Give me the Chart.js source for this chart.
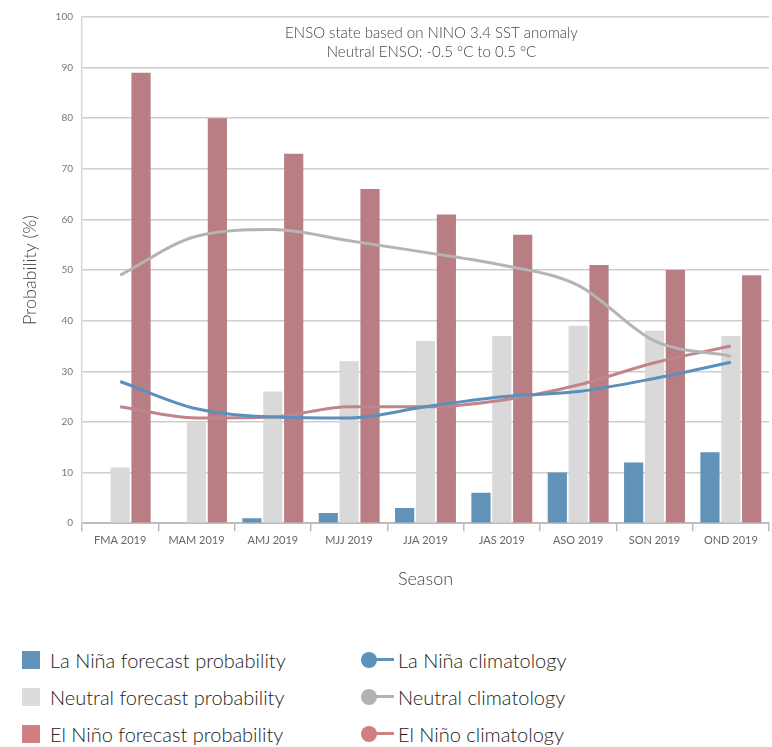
<!DOCTYPE html>
<html>
<head>
<meta charset="utf-8">
<script src="https://cdn.jsdelivr.net/npm/chart.js@4"></script>
<style>
  body { margin: 0; background: #fff; font-family: Lato, sans-serif; }
  #caixa { position: relative; width: 772px; height: 747px; }
  #grafico-wrap { position: absolute; left: 0; top: 0; width: 772px; height: 600px; }
  #legenda { position: absolute; left: 0; top: 641px; width: 772px; }
  .linha { height: 37px; display: flex; align-items: center; font-size: 20px; font-weight: 300; color: #222; }
  .item { display: flex; align-items: center; }
  .col1 { width: 343px; padding-left: 22px; }
  .quadrado { width: 18px; height: 18px; margin-right: 10px; }
  .icone { position: relative; width: 33px; height: 16px; margin-right: 0; }
  .icone .bola { position: absolute; left: -4px; top: 0; width: 16px; height: 16px; border-radius: 50%; }
  .icone .traco { position: absolute; left: 4px; top: 6px; width: 25px; height: 3px; }
</style>
</head>
<body>
<div id="caixa">
  <div id="grafico-wrap"><canvas id="meuGrafico"></canvas></div>
  <div id="legenda"></div>
</div>
<script>
const estacoes = ['FMA 2019', 'MAM 2019', 'AMJ 2019', 'MJJ 2019', 'JJA 2019', 'JAS 2019', 'ASO 2019', 'SON 2019', 'OND 2019'];

// forecast probabilities (%)
const laNinaPrev = [0, 0, 1, 2, 3, 6, 10, 12, 14];
const neutroPrev = [11, 20, 26, 32, 36, 37, 39, 38, 37];
const elNinoPrev = [89, 80, 73, 66, 61, 57, 51, 50, 49];

// climatology (%)
const laNinaClim = [28, 22.6, 21, 20.8, 23, 25, 26, 28.6, 31.8];
const neutroClim = [49, 56.7, 58, 55.8, 53.5, 51, 47, 36, 33];
const elNinoClim = [23, 20.8, 21, 23, 23, 24.3, 27.3, 31.7, 35];

const yMin = 0;
const yMax = 100;
const yPasso = 10;

const tituloInterno = ['ENSO state based on NINO 3.4 SST anomaly', 'Neutral ENSO: -0.5 \u00b0C to 0.5 \u00b0C'];

const corAzul = '#6193b9';
const corCinza = '#d9d9d9';
const corVermelho = '#b87e83';
const corAzulLinha = '#5d8fbb';
const corCinzaLinha = '#b4b4b4';
const corVermelhoLinha = '#c0848a';

const textoInterno = {
  id: 'textoInterno',
  afterDraw(chart) {
    const ctx = chart.ctx;
    const area = chart.chartArea;
    ctx.save();
    ctx.font = '300 15px Lato, sans-serif';
    ctx.fillStyle = '#444';
    ctx.textAlign = 'center';
    ctx.textBaseline = 'middle';
    const x = (area.left + area.right) / 2 + 6;
    tituloInterno.forEach((t, i) => ctx.fillText(t, x, area.top + 16 + i * 19));
    ctx.restore();
  }
};

function criarGrafico() {
  const canvas = document.getElementById('meuGrafico');
  const contexto = canvas.getContext('2d');

  const barra = (label, data, cor) => ({
    type: 'bar', label, data, backgroundColor: cor,
    barPercentage: 0.92, categoryPercentage: 0.82, order: 2
  });
  const linha = (label, data, cor) => ({
    type: 'line', label, data, borderColor: cor, backgroundColor: cor,
    borderWidth: 3, pointRadius: 0, cubicInterpolationMode: 'monotone', order: 1
  });

  const grafico = new Chart(contexto, {
    type: 'bar',
    data: {
      labels: estacoes,
      datasets: [
        barra('La Ni\u00f1a forecast probability', laNinaPrev, corAzul),
        barra('Neutral forecast probability', neutroPrev, corCinza),
        barra('El Ni\u00f1o forecast probability', elNinoPrev, corVermelho),
        linha('La Ni\u00f1a climatology', laNinaClim, corAzulLinha),
        linha('Neutral climatology', neutroClim, corCinzaLinha),
        linha('El Ni\u00f1o climatology', elNinoClim, corVermelhoLinha)
      ]
    },
    options: {
      responsive: true,
      maintainAspectRatio: false,
      animation: false,
      layout: { padding: { top: 17, right: 3, bottom: 6, left: 0 } },
      plugins: {
        legend: { display: false },
        tooltip: { enabled: false }
      },
      scales: {
        x: {
          offset: true,
          grid: { offset: true, drawOnChartArea: false, drawTicks: true, tickLength: 8, color: '#bdbdbd', lineWidth: 1.5 },
          border: { color: '#bdbdbd', width: 2 },
          ticks: { font: { family: 'Lato', size: 11 }, color: '#666', padding: 3, maxRotation: 0 },
          title: { display: true, text: 'Season', font: { family: 'Lato', size: 18, weight: '300' }, color: '#444', padding: { top: 18, bottom: 4 } }
        },
        y: {
          min: yMin,
          max: yMax,
          afterFit: (escala) => { escala.width = 82; },
          grid: { color: '#cdcdcd', lineWidth: 1.5, drawTicks: false },
          border: { color: '#d6d6d6', width: 1.5 },
          ticks: { stepSize: yPasso, font: { family: 'Lato', size: 10 }, color: '#777', padding: 9 },
          title: { display: true, text: 'Probability (%)', font: { family: 'Lato', size: 18, weight: '300' }, color: '#444', padding: { top: 19, bottom: 0 } }
        }
      }
    },
    plugins: [textoInterno]
  });

  montarLegenda(grafico);
}

function montarLegenda(grafico) {
  const ds = grafico.data.datasets;
  const corQuadrado = ['#6193b9', '#dcdcdc', '#d08080'];
  const corIcone = ['#5d92bb', '#b3b3b3', '#d08080'];
  const legenda = document.getElementById('legenda');
  for (let i = 0; i < 3; i++) {
    const linha = document.createElement('div');
    linha.className = 'linha';
    linha.innerHTML =
      '<div class="item col1"><div class="quadrado" style="background:' + corQuadrado[i] + '"></div>' + ds[i].label + '</div>' +
      '<div class="item"><div class="icone"><div class="traco" style="background:' + corIcone[i] + '"></div><div class="bola" style="background:' + corIcone[i] + '"></div></div>' + ds[i + 3].label + '</div>';
    legenda.appendChild(linha);
  }
}

document.addEventListener('DOMContentLoaded', criarGrafico);
</script>
</body>
</html>
